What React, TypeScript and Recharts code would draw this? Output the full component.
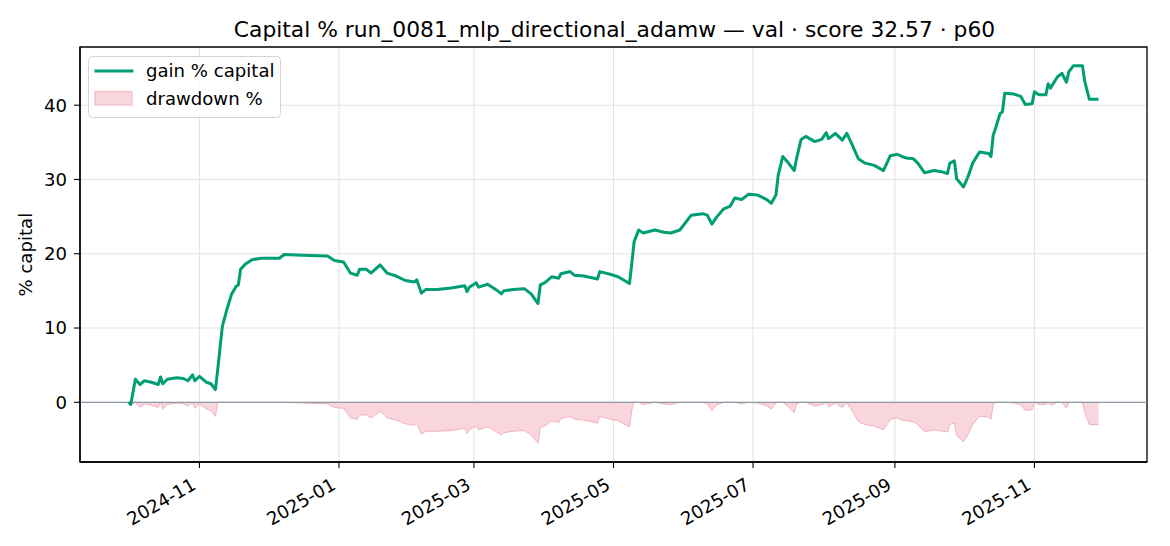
import {
  ComposedChart,
  Line,
  Area,
  XAxis,
  YAxis,
  CartesianGrid,
  ReferenceLine,
  ReferenceArea,
  Legend,
} from 'recharts';

const FONT = '"DejaVu Sans", Verdana, sans-serif';
const TITLE = 'Capital % run_0081_mlp_directional_adamw — val · score 32.57 · p60';

// one row per line: a month of samples
const dates = [
  '2024-10-01', '2024-10-02', '2024-10-04', '2024-10-06', '2024-10-08', '2024-10-11', '2024-10-14', '2024-10-15',
  '2024-10-16', '2024-10-18', '2024-10-22', '2024-10-25', '2024-10-27', '2024-10-29', '2024-10-30',
  '2024-11-01', '2024-11-04', '2024-11-06', '2024-11-08', '2024-11-09', '2024-11-11', '2024-11-13', '2024-11-15',
  '2024-11-17', '2024-11-18', '2024-11-19', '2024-11-21', '2024-11-24', '2024-11-28',
  '2024-12-06', '2024-12-08', '2024-12-16', '2024-12-27', '2024-12-30',
  '2025-01-03', '2025-01-06', '2025-01-09', '2025-01-10', '2025-01-13', '2025-01-15', '2025-01-19', '2025-01-22',
  '2025-01-26', '2025-01-30',
  '2025-02-03', '2025-02-04', '2025-02-06', '2025-02-08', '2025-02-13', '2025-02-19', '2025-02-25', '2025-02-26',
  '2025-02-27',
  '2025-03-02', '2025-03-03', '2025-03-07', '2025-03-11', '2025-03-13', '2025-03-14', '2025-03-18', '2025-03-23',
  '2025-03-26', '2025-03-29', '2025-03-30',
  '2025-04-01', '2025-04-04', '2025-04-07', '2025-04-08', '2025-04-12', '2025-04-14', '2025-04-18', '2025-04-24',
  '2025-04-25', '2025-04-30',
  '2025-05-03', '2025-05-08', '2025-05-09', '2025-05-10', '2025-05-12', '2025-05-14', '2025-05-19', '2025-05-23',
  '2025-05-26', '2025-05-30',
  '2025-06-04', '2025-06-09', '2025-06-11', '2025-06-13', '2025-06-15', '2025-06-18', '2025-06-21', '2025-06-23',
  '2025-06-26', '2025-06-29',
  '2025-07-03', '2025-07-07', '2025-07-09', '2025-07-11', '2025-07-12', '2025-07-14', '2025-07-16', '2025-07-19',
  '2025-07-20', '2025-07-22', '2025-07-24', '2025-07-28', '2025-07-31',
  '2025-08-02', '2025-08-03', '2025-08-06', '2025-08-09', '2025-08-11', '2025-08-13', '2025-08-16', '2025-08-19',
  '2025-08-23', '2025-08-27', '2025-08-30',
  '2025-09-02', '2025-09-04', '2025-09-06', '2025-09-09', '2025-09-11', '2025-09-14', '2025-09-18', '2025-09-22',
  '2025-09-24', '2025-09-25', '2025-09-27', '2025-09-28',
  '2025-10-01', '2025-10-03', '2025-10-05', '2025-10-08', '2025-10-12', '2025-10-13', '2025-10-14', '2025-10-15',
  '2025-10-17', '2025-10-18', '2025-10-19', '2025-10-23', '2025-10-26', '2025-10-28', '2025-10-31',
  '2025-11-01', '2025-11-03', '2025-11-06', '2025-11-07', '2025-11-08', '2025-11-11', '2025-11-13', '2025-11-15',
  '2025-11-16', '2025-11-18', '2025-11-22', '2025-11-23', '2025-11-25', '2025-11-29',
];

const gainPct = [
  0, -0.3, 3.1, 2.4, 2.9, 2.7, 2.4, 3.4, 2.5, 3.1, 3.3, 3.2, 2.9, 3.7, 2.9,
  3.5, 2.7, 2.5, 1.7, 4.4, 10.2, 12.5, 14.5, 15.6, 15.8, 17.9, 18.6, 19.2, 19.4,
  19.4, 19.9, 19.8, 19.7, 19.1,
  18.9, 17.4, 17.1, 17.9, 17.9, 17.4, 18.5, 17.4, 17.0, 16.4,
  16.2, 16.5, 14.7, 15.2, 15.2, 15.4, 15.7, 14.9, 15.5,
  16.1, 15.5, 15.9, 15.1, 14.6, 15.0, 15.2, 15.3, 14.6, 13.3, 15.8,
  16.1, 16.9, 16.7, 17.3, 17.6, 17.1, 17.0, 16.6, 17.6, 17.2,
  16.9, 16.0, 18.7, 21.6, 23.2, 22.8, 23.2, 22.9, 22.8, 23.2,
  25.2, 25.4, 25.2, 24.0, 24.9, 26.0, 26.4, 27.5, 27.3, 28.0,
  27.9, 27.3, 26.8, 27.9, 30.6, 33.1, 32.4, 31.2, 32.8, 35.4, 35.8, 35.1, 35.4,
  36.3, 35.5, 36.2, 35.3, 36.2, 34.9, 32.8, 32.2, 31.9, 31.2, 33.2,
  33.4, 33.1, 32.9, 32.8, 32.2, 30.9, 31.2, 31.0, 30.8, 32.2, 32.5, 30.1,
  29.0, 30.4, 32.2, 33.7, 33.5, 33.1, 36.0, 36.9, 38.9, 39.1, 41.6, 41.5, 41.2, 40.1, 40.2,
  41.8, 41.4, 41.4, 42.9, 42.3, 43.8, 44.3, 43.1, 44.5, 45.3, 45.3, 43.2, 40.8, 40.8,
];

const drawdownPct = [
  0, -0.3, 0, -0.7, -0.2, -0.4, -0.7, 0, -0.9, -0.3, -0.1, -0.2, -0.5, 0, -0.8,
  -0.2, -0.9, -1.1, -1.9, 0, 0, 0, 0, 0, 0, 0, 0, 0, 0,
  0, 0, -0.1, -0.2, -0.7,
  -0.8, -2.1, -2.3, -1.7, -1.7, -2.1, -1.2, -2.1, -2.4, -2.9,
  -3.1, -2.8, -4.3, -3.9, -3.9, -3.8, -3.5, -4.2, -3.7,
  -3.2, -3.7, -3.3, -4.0, -4.4, -4.1, -3.9, -3.8, -4.4, -5.5, -3.4,
  -3.2, -2.5, -2.7, -2.2, -1.9, -2.3, -2.4, -2.8, -1.9, -2.3,
  -2.5, -3.3, -1.0, 0, 0, -0.3, 0, -0.2, -0.3, 0,
  0, 0, -0.2, -1.1, -0.4, 0, 0, 0, -0.2, 0,
  -0.1, -0.5, -0.9, -0.1, 0, 0, -0.5, -1.4, -0.2, 0, 0, -0.5, -0.3,
  0, -0.6, -0.1, -0.7, -0.1, -1.0, -2.6, -3.0, -3.2, -3.7, -2.3,
  -2.1, -2.4, -2.5, -2.6, -3.0, -4.0, -3.7, -3.9, -4.0, -3.0, -2.8, -4.5,
  -5.3, -4.3, -3.0, -1.9, -2.0, -2.3, -0.2, 0, 0, 0, 0, -0.1, -0.3, -1.1, -1.0,
  0, -0.3, -0.3, 0, -0.4, 0, 0, -0.8, 0, 0, 0, -1.4, -3.0, -3.0,
];

const xTickLabels = ['2024-11', '2025-01', '2025-03', '2025-05', '2025-07', '2025-09', '2025-11'];
const yTicks = [0, 10, 20, 30, 40];

const GREEN = '#009e73';
const PINK_FILL = '#f9d5dd';
const PINK_EDGE = '#f2b2c1';
const FS = 18.1;

const data = dates.map((d, i) => ({ t: Date.parse(d), gain: gainPct[i], dd: drawdownPct[i] }));
const xTicks = xTickLabels.map((l) => Date.parse(`${l}-01`));

// matplotlib-style 5% margins
const tMin = data[0]!.t;
const tMax = data[data.length - 1]!.t;
const tPad = (tMax - tMin) * 0.05;
const xDomain: [number, number] = [tMin - tPad, tMax + tPad];
const vLo = Math.min(...gainPct, ...drawdownPct);
const vHi = Math.max(...gainPct, ...drawdownPct);
const vPad = (vHi - vLo) * 0.05;
const yDomain: [number, number] = [vLo - vPad, vHi + vPad];

function monthLabel(ts: number): string {
  const d = new Date(ts);
  return `${d.getUTCFullYear()}-${String(d.getUTCMonth() + 1).padStart(2, '0')}`;
}

function DateTick({ x, y, payload }: { x: number; y: number; payload: { value: number } }) {
  return (
    <text
      transform={`translate(${x - 2.1},${y + 20.3}) rotate(-30)`}
      textAnchor="end"
      fill="#000"
      fontSize={FS}
      fontFamily={FONT}
    >
      {monthLabel(payload.value)}
    </text>
  );
}

function LegendBox() {
  return (
    <svg width={194} height={63} style={{ display: 'block' }}>
      <rect x={0.5} y={0.5} width={192} height={61} rx={4} fill="rgba(255,255,255,0.8)" stroke="#d4d4d4" />
      <line x1={6.5} x2={45.5} y1={15} y2={15} stroke={GREEN} strokeWidth={3} />
      <text x={58} y={21.3} fontSize={FS} fontFamily={FONT} fill="#000">gain % capital</text>
      <rect x={7} y={35.7} width={37} height={13.3} fill={PINK_FILL} stroke={PINK_EDGE} />
      <text x={58} y={49} fontSize={FS} fontFamily={FONT} fill="#000">drawdown %</text>
    </svg>
  );
}

export default function App() {
  return (
    <div style={{ position: 'relative', width: 1170, height: 546, background: '#fff' }}>
      <style>{'body { margin: 0; }'}</style>
      <ComposedChart
        width={1170}
        height={546}
        data={data}
        margin={{ top: 47, right: 23, bottom: 0, left: 0 }}
      >
        <CartesianGrid stroke="#e3e3e3" strokeWidth={1} horizontalValues={yTicks} verticalValues={xTicks} />
        <XAxis
          dataKey="t"
          type="number"
          scale="linear"
          domain={xDomain}
          ticks={xTicks}
          allowDataOverflow
          height={84}
          tickSize={6}
          tickMargin={0}
          tick={DateTick}
          axisLine={{ stroke: '#000', strokeWidth: 1.3 }}
          tickLine={{ stroke: '#000', strokeWidth: 1.1 }}
        />
        <YAxis
          type="number"
          domain={yDomain}
          ticks={yTicks}
          allowDataOverflow
          width={80}
          tickSize={6}
          tickMargin={7}
          tick={{ fill: '#000', fontSize: FS, fontFamily: FONT }}
          axisLine={{ stroke: '#000', strokeWidth: 1.3 }}
          tickLine={{ stroke: '#000', strokeWidth: 1.1 }}
        />
        <Area
          type="linear"
          dataKey="dd"
          baseValue={0}
          fill={PINK_FILL}
          fillOpacity={1}
          stroke={PINK_EDGE}
          strokeWidth={1}
          dot={false}
          activeDot={false}
          isAnimationActive={false}
        />
        <ReferenceLine y={0} stroke="#8d9aa8" strokeWidth={1.2} />
        <Line
          type="linear"
          dataKey="gain"
          stroke={GREEN}
          strokeWidth={3}
          strokeLinejoin="round"
          dot={false}
          activeDot={false}
          isAnimationActive={false}
        />
        <ReferenceArea
          x1={xDomain[0]}
          x2={xDomain[1]}
          y1={yDomain[0]}
          y2={yDomain[1]}
          fill="none"
          stroke="#000"
          strokeWidth={1.3}
          ifOverflow="visible"
        />
        <Legend
          layout="vertical"
          align="center"
          verticalAlign="middle"
          wrapperStyle={{ left: 88, top: 56, width: 194, height: 63 }}
          content={() => <LegendBox />}
        />
      </ComposedChart>
      <svg
        width={1170}
        height={546}
        style={{ position: 'absolute', left: 0, top: 0, pointerEvents: 'none' }}
      >
        <text x={614.5} y={36.7} textAnchor="middle" fontSize={21.8} fontFamily={FONT} fill="#000">
          {TITLE}
        </text>
        <text
          transform="translate(32,254.7) rotate(-90)"
          textAnchor="middle"
          fontSize={FS}
          fontFamily={FONT}
          fill="#000"
        >
          % capital
        </text>
      </svg>
    </div>
  );
}
